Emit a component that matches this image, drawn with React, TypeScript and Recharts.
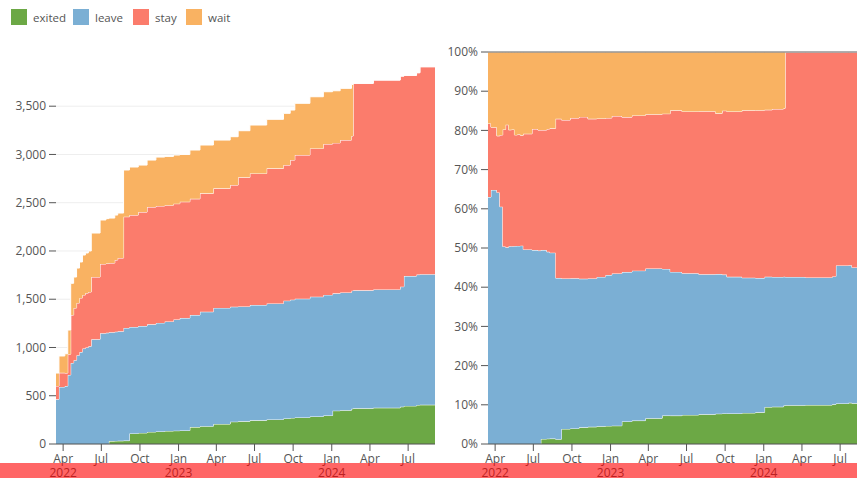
import React from "react";
import { AreaChart, Area, XAxis, YAxis, CartesianGrid, ReferenceLine } from "recharts";

// weekly snapshot dates
const dates = [
  "2022-03-15", "2022-03-22", "2022-04-05", "2022-04-12", "2022-04-19", "2022-04-26",
  "2022-05-03", "2022-05-10", "2022-05-17", "2022-05-24", "2022-05-31", "2022-06-07",
  "2022-06-28", "2022-07-12", "2022-07-19", "2022-08-02", "2022-08-09", "2022-08-23",
  "2022-09-06", "2022-09-27", "2022-10-18", "2022-11-08", "2022-11-29", "2022-12-20",
  "2023-01-04", "2023-01-28", "2023-02-21", "2023-03-25", "2023-05-04", "2023-05-23",
  "2023-06-20", "2023-07-30", "2023-09-08", "2023-09-24", "2023-10-05", "2023-11-10",
  "2023-12-12", "2024-01-03", "2024-01-21", "2024-02-17", "2024-02-21", "2024-04-09",
  "2024-06-12", "2024-06-21", "2024-07-21", "2024-07-29", "2024-09-03",
];

const exited = [
  0, 0, 0, 0, 0, 0, 0, 0, 0, 0, 0, 0,
  0, 0, 30, 32, 33, 35, 110, 115, 125, 130, 135, 138,
  140, 175, 185, 207, 231, 235, 245, 255, 265, 270, 275, 285,
  295, 345, 350, 365, 370, 375, 386, 395, 404, 406, 414,
];

const leave = [
  463, 591, 600, 715, 839, 868, 920, 952, 989, 1000, 1012, 1085,
  1148, 1152, 1128, 1131, 1135, 1167, 1102, 1107, 1115, 1125, 1135, 1152,
  1165, 1161, 1185, 1203, 1191, 1190, 1195, 1202, 1220, 1225, 1230, 1241,
  1250, 1216, 1220, 1224, 1222, 1227, 1244, 1345, 1351, 1354, 1361,
];

const stay = [
  138, 146, 135, 216, 497, 541, 541, 561, 555, 564, 563, 645,
  717, 718, 717, 743, 759, 1153, 1160, 1181, 1215, 1211, 1205, 1200,
  1205, 1204, 1227, 1239, 1261, 1338, 1364, 1399, 1405, 1447, 1489, 1537,
  1563, 1559, 1579, 1602, 2145, 2169, 2182, 2080, 2092, 2149, 2155,
];

const wait = [
  134, 175, 200, 250, 329, 321, 362, 373, 414, 415, 425, 456,
  456, 465, 466, 466, 466, 484, 498, 487, 487, 507, 505, 504,
  490, 506, 501, 500, 501, 483, 501, 508, 536, 518, 536, 535,
  542, 540, 536, 535, 0, 0, 0, 0, 0, 0, 0,
];

const monthTicks = [
  "2022-04-01", "2022-07-01", "2022-10-01", "2023-01-01", "2023-04-01",
  "2023-07-01", "2023-10-01", "2024-01-01", "2024-04-01", "2024-07-01",
];
const countTicks = [0, 500, 1000, 1500, 2000, 2500, 3000, 3500];
const pctTicks = [0, 0.1, 0.2, 0.3, 0.4, 0.5, 0.6, 0.7, 0.8, 0.9, 1];

const MONTHS = ["Jan", "Feb", "Mar", "Apr", "May", "Jun", "Jul", "Aug", "Sep", "Oct", "Nov", "Dec"];

const series = [
  { key: "exited", color: "#6ca845" },
  { key: "leave", color: "#7bafd4" },
  { key: "stay", color: "#fb7c6c" },
  { key: "wait", color: "#f9b262" },
];

const data = dates.map((d, i) => ({
  t: Date.parse(d),
  exited: exited[i],
  leave: leave[i],
  stay: stay[i],
  wait: wait[i],
}));

const tickTimes = monthTicks.map((d) => Date.parse(d));
const domain = [Date.parse(dates[0]), Date.parse(dates[dates.length - 1])];

const FONT = "'Open Sans', sans-serif";
const AXIS = "#555";

function MonthTick(props: any) {
  const { x, y, payload } = props;
  const d = new Date(payload.value);
  const showYear = d.getUTCMonth() === 0 || payload.value === tickTimes[0];
  return (
    <g transform={`translate(${x},${y})`}>
      <text x={0} y={10} textAnchor="middle" fill={AXIS} fontSize={12} fontFamily={FONT}>
        {MONTHS[d.getUTCMonth()]}
      </text>
      {showYear && (
        <text x={0} y={23.5} textAnchor="middle" fill={AXIS} fontSize={12} fontFamily={FONT}>
          {d.getUTCFullYear()}
        </text>
      )}
    </g>
  );
}

function StackChart({ expand }: { expand: boolean }) {
  const yTicks = expand ? pctTicks : countTicks;
  return (
    <AreaChart
      width={440}
      height={478}
      data={data}
      stackOffset={expand ? "expand" : "none"}
      margin={{ top: expand ? 52 : 64.7, right: 5, bottom: 0, left: 0 }}
    >
      <CartesianGrid vertical={false} stroke="#eee" horizontalValues={yTicks} />
      <XAxis
        dataKey="t"
        type="number"
        domain={domain}
        ticks={tickTimes}
        tick={<MonthTick />}
        height={34}
        tickSize={7}
        tickMargin={2}
        stroke={AXIS}
        interval={0}
      />
      <YAxis
        width={56}
        domain={expand ? [0, 1] : [0, 3930]}
        ticks={yTicks}
        tickFormatter={(v: number) => (expand ? `${Math.round(v * 100)}%` : v.toLocaleString("en-US"))}
        axisLine={false}
        tickSize={7}
        tickMargin={3}
        stroke={AXIS}
        tick={{ fill: AXIS, fontSize: 12, fontFamily: FONT }}
        interval={0}
        allowDataOverflow
      />
      {series.map((s) => (
        <Area
          key={s.key}
          dataKey={s.key}
          type="stepAfter"
          stackId="a"
          stroke="#fff"
          strokeWidth={1}
          fill={s.color}
          fillOpacity={1}
          dot={false}
          activeDot={false}
          isAnimationActive={false}
        />
      ))}
      {expand && <ReferenceLine y={1} stroke="#666" strokeWidth={1} />}
    </AreaChart>
  );
}

const legendPos = [11, 73, 133, 186];

export default function App() {
  return (
    <div
      style={{
        position: "absolute",
        left: 0,
        top: 0,
        width: 857,
        height: 478,
        overflow: "hidden",
        background: "#fff",
        fontFamily: FONT,
      }}
    >
      {series.map((s, i) => (
        <div
          key={s.key}
          style={{ position: "absolute", left: legendPos[i], top: 9, display: "flex", alignItems: "center" }}
        >
          <div style={{ width: 16, height: 16, background: s.color }} />
          <span style={{ marginLeft: 6, fontSize: 11.5, color: AXIS }}>{s.key}</span>
        </div>
      ))}
      <div style={{ position: "absolute", left: 0, top: 0 }}>
        <StackChart expand={false} />
      </div>
      <div style={{ position: "absolute", left: 432, top: 0 }}>
        <StackChart expand={true} />
      </div>
      <div
        style={{
          position: "absolute",
          left: 0,
          top: 463,
          width: 857,
          height: 15,
          background: "rgba(255, 0, 0, 0.6)",
        }}
      />
    </div>
  );
}
